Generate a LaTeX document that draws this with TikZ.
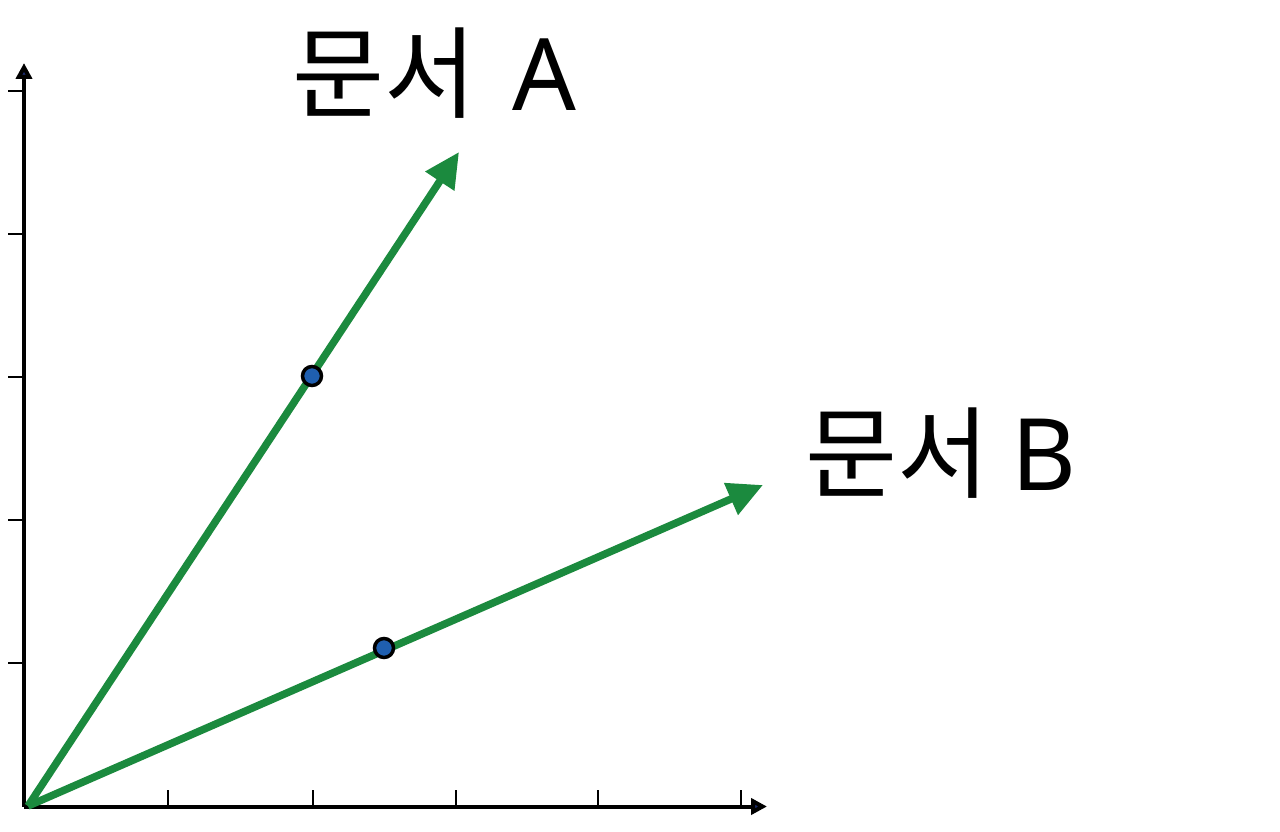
\documentclass[tikz,border=0pt]{standalone}
\usepackage{fontspec}
\newfontfamily\cjk{Noto Sans CJK KR}
\newfontfamily\latin{Noto Sans}
\usetikzlibrary{arrows.meta}
\definecolor{vgreen}{HTML}{1B8A3E}
\definecolor{dotblue}{HTML}{1F5FB0}
\definecolor{axnavy}{HTML}{1A2A6C}
\tikzset{
  axisline/.style={line width=4pt, black, -{Triangle[length=16pt,width=16pt,fill=axnavy]}},
  tickline/.style={line width=2.5pt, black},
  vec/.style={line width=7.5pt, vgreen, -{Triangle[length=35pt,width=33pt]}},
  vdot/.style={circle, draw=black, line width=3.5pt, fill=dotblue, minimum size=19pt, inner sep=0pt},
  lbl/.style={font=\fontsize{100}{115}\selectfont, inner sep=0pt, anchor=base west}
}
\begin{document}
\begin{tikzpicture}[x=1pt,y=-1pt]
\useasboundingbox[fill=white] (0,0) rectangle (1280,832);
\coordinate (O) at (24,806.5);
\coordinate (Ytop) at (24,63);
\coordinate (Xend) at (767,806.5);
\coordinate (S) at (28,806);
\coordinate (Atip) at (459,152);
\coordinate (Btip) at (763,485);
% ticks
\foreach \yy/\nm in {91/ya,234/yb,377/yc,520/yd,663/ye}{
  \coordinate (\nm1) at (8,\yy); \coordinate (\nm2) at (24,\yy);
  \draw[tickline] (\nm1) -- (\nm2);
}
\foreach \xx/\nm in {168/xa,313/xb,456/xc,598/xd,741/xe}{
  \coordinate (\nm1) at (\xx,790); \coordinate (\nm2) at (\xx,806);
  \draw[tickline] (\nm1) -- (\nm2);
}
\draw[axisline] (O) -- (Ytop);
\draw[axisline] (O) -- (Xend);
% vectors
\draw[vec] (S) -- (Atip);
\draw[vec] (S) -- (Btip);
\node[vdot] (dA) at (312,376) {};
\node[vdot] (dB) at (384,648) {};
% labels
\node[lbl] (LA) at (292,111) {{\cjk 문서}\hspace{36pt}{\latin A}};
\node[lbl] (LB) at (805,490) {{\cjk 문서}\hspace{22pt}{\latin B}};
\end{tikzpicture}
\end{document}
